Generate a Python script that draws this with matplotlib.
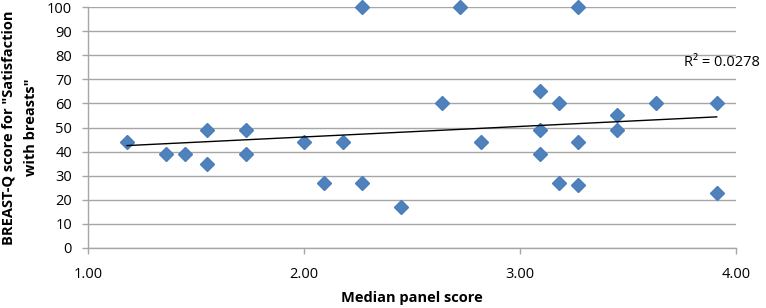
import matplotlib
matplotlib.use("Agg")
import matplotlib.pyplot as plt
import numpy as np

plt.rcParams['font.family'] = ['Open Sans', 'DejaVu Sans']

median_panel_score = [1.18, 1.36, 1.45, 1.55, 1.55, 1.73, 1.73,
                      2.00, 2.09, 2.18, 2.27, 2.27, 2.45, 2.64, 2.72, 2.82,
                      3.09, 3.09, 3.09, 3.18, 3.18, 3.27, 3.27, 3.27,
                      3.45, 3.45, 3.63, 3.91, 3.91]
breastq_score = [44, 39, 39, 49, 35, 49, 39,
                 44, 27, 44, 100, 27, 17, 60, 100, 44,
                 65, 49, 39, 60, 27, 100, 44, 26,
                 55, 49, 60, 60, 23]
x_ticks = [1.0, 2.0, 3.0, 4.0]
x_tick_labels = ["1.00", "2.00", "3.00", "4.00"]
y_ticks = list(range(0, 101, 10))
r2_label = "R² = 0.0278"

fig = plt.figure(figsize=(7.66, 3.08), dpi=100)
ax = fig.add_axes([0.115, 0.195, 0.846, 0.782])

ax.set_xlim(1.0, 4.0)
ax.set_ylim(0, 100)
ax.set_yticks(y_ticks)
ax.set_xticks(x_ticks)
ax.set_xticklabels(x_tick_labels)

ax.grid(axis='y', color='#A6A6A6', linewidth=1.0)
ax.set_axisbelow(True)
for s in ['top', 'right']:
    ax.spines[s].set_visible(False)
for s in ['left', 'bottom']:
    ax.spines[s].set_color('#A6A6A6')
    ax.spines[s].set_linewidth(1.0)
ax.tick_params(axis='both', colors='#A6A6A6', labelcolor='black', labelsize=10.5, length=4, width=1)
ax.tick_params(axis='x', pad=10)
ax.tick_params(axis='y', pad=7.5)

ax.plot(median_panel_score, breastq_score, linestyle='none', marker='D',
        markersize=7, color='#4F81BD', markeredgecolor='#4A7EBB', zorder=3, clip_on=False)

xs = np.array(median_panel_score)
coef = np.polyfit(xs, np.array(breastq_score), 1)
xl = np.array([xs.min(), xs.max()])
ax.plot(xl, np.polyval(coef, xl), color='black', linewidth=1.0, zorder=4)

ax.text(3.76, 77, r2_label, fontsize=10.5, ha='left', va='center')

ax.set_xlabel("Median panel score", fontsize=10.5, fontweight='bold', labelpad=6)
fig.text(0.026, 0.195 + 0.782 / 2, "BREAST-Q score for \"Satisfaction\nwith breasts\"",
         fontsize=10.5, fontweight='bold', rotation=90, ha='center', va='center',
         multialignment='center', linespacing=1.75)

fig.savefig("out.png", dpi=100)
